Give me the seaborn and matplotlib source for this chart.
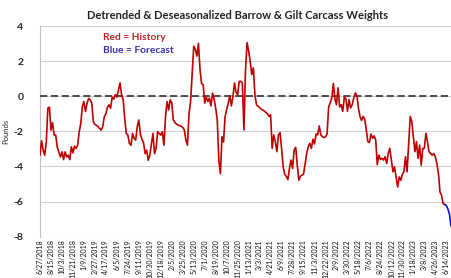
import pandas as pd
import matplotlib
matplotlib.use("Agg")
import matplotlib.pyplot as plt
import seaborn as sns

# Weekly values (pounds)
start_date = "2018-06-27"
history = [
    -3.36, -2.54, -3.07, -3.36, -2.6, -0.68, -0.62, -1.93, -1.5, -2.21,
    -2.21, -2.9, -3.17, -3.46, -3.17, -3.61, -3.17, -3.46, -3.36, -3.61,
    -2.88, -3.23, -2.84, -2.97, -2.79, -2.02, -1.54, -0.58, -0.3, -0.87,
    -0.39, -0.12, -0.2, -0.39, -1.45, -1.6, -1.66, -1.73, -1.83, -1.93,
    -1.73, -1.16, -1.0, -0.62, -0.49, -0.68, -0.05, -0.16, 0.09, -0.05,
    0.37, 0.76, 0.09, -0.2, -1.25, -2.12, -2.21, -2.69, -2.79, -2.12,
    -2.4, -2.5, -1.73, -1.35, -2.16, -2.46, -2.65, -3.27, -3.07, -3.65,
    -3.36, -2.73, -2.12, -3.27, -2.98, -2.02, -2.12, -2.21, -2.02, -2.79,
    -1.16, -0.3, -0.78, -0.2, -0.39, -1.35, -1.5, -1.58, -1.64, -1.68,
    -1.71, -1.77, -1.93, -2.5, -2.79, -0.97, -0.3, 1.24, 2.86, 2.67,
    2.29, 3.02, 1.52, 0.72, 0.66, -0.39, -0.05, -0.3, -0.1, -0.55,
    0.18, -0.16, -0.68, -1.35, -3.65, -4.42, -2.31, -2.6, -1.16, -0.74,
    -0.39, 0.03, -0.55, 0.0, 0.76, 0.22, 0.09, 0.85, 0.86, 0.77,
    -1.92, 1.5, 3.06, 2.58, 2.0, 1.24, 1.62, 0.09, -0.48, -0.57,
    -0.65, -0.73, -0.79, -0.84, -0.92, -1.0, -1.15, -1.05, -2.97, -2.2,
    -2.59, -3.16, -2.2, -2.07, -2.97, -4.02, -4.44, -4.56, -4.75, -4.12,
    -3.64, -4.12, -3.07, -2.91, -3.93, -4.79, -4.56, -4.5, -4.44, -3.83,
    -3.26, -2.87, -2.68, -2.97, -2.45, -2.72, -2.15, -2.2, -1.69, -2.2,
    -2.3, -2.36, -2.3, -2.15, -0.61, -0.38, -0.1, 0.73, -0.15, -0.48,
    0.48, -0.61, -0.48, -0.86, -0.04, -0.15, -0.86, -0.19, -0.67, -0.48,
    -0.1, 0.19, 0.04, -0.67, -1.15, -1.38, -1.15, -1.3, -1.92, -2.59,
    -2.64, -2.15, -2.39, -2.26, -2.49, -3.9, -3.35, -3.6, -3.54, -3.64,
    -3.45, -3.83, -3.26, -2.97, -3.64, -4.31, -4.02, -4.6, -5.17, -4.6,
    -4.79, -4.44, -4.31, -3.45, -4.31, -2.68, -1.15, -1.44, -2.3, -3.16,
    -2.59, -3.54, -2.78, -3.93, -2.97, -2.97, -2.11, -2.59, -3.16, -3.26,
    -3.35, -3.26, -3.45, -3.83, -4.41, -5.46, -5.65, -6.13, -6.17,
]
forecast = [-6.17, -6.23, -6.42, -6.71, -7.4]
y_ticks = [-8, -6, -4, -2, 0, 2, 4]

dates = pd.date_range(start_date, periods=len(history) + len(forecast) - 1, freq="7D")
hist_df = pd.DataFrame({"date": dates[:len(history)], "value": history})
fc_df = pd.DataFrame({"date": dates[len(history) - 1:], "value": forecast})
tick_dates = pd.date_range(start_date, periods=38, freq="49D")

sns.set_style("white")
plt.rcParams["font.family"] = ["Lato", "DejaVu Sans"]

fig = plt.figure(figsize=(4.51, 2.78), dpi=100)
ax = fig.add_axes([0.0887, 0.149, 0.9113, 0.757])

ax.axhline(0, color="#404040", lw=1.3, ls=(0, (4, 2)), zorder=3)
sns.lineplot(data=hist_df, x="date", y="value", color="#C00000", lw=1.2, ax=ax, zorder=4)
sns.lineplot(data=fc_df, x="date", y="value", color="#1010E0", lw=1.2, ax=ax, zorder=4)

ax.set_ylim(-8, 4)
ax.set_xlim(dates[0], dates[-1])
ax.set_yticks(y_ticks)
ax.set_yticklabels([str(t) for t in y_ticks], fontsize=7.5, fontweight="bold")
ax.yaxis.grid(True, color="#D0D0D0", lw=0.8)
ax.set_xticks(tick_dates)
ax.set_xticklabels([f"{d.month}/{d.day}/{d.year}" for d in tick_dates],
                   rotation=90, fontsize=5.0, color="#111111")
ax.tick_params(axis="y", length=4, color="#C0C0C0", width=0.8, pad=8)
ax.tick_params(axis="x", length=0, pad=2)
for s in ["top", "right", "bottom"]:
    ax.spines[s].set_visible(False)
ax.spines["left"].set_color("#C0C0C0")
ax.spines["left"].set_linewidth(0.8)

ax.set_xlabel("")
ax.set_ylabel("Pounds", fontsize=5.5, labelpad=8)
ax.yaxis.set_label_coords(-0.075, 0.5)

fig.text(0.526, 0.945, "Detrended & Deseasonalized Barrow & Gilt Carcass Weights",
         ha="center", va="center", fontsize=8, fontweight="bold", color="#222222")
fig.text(0.228, 0.866, "Red = History", ha="left", va="center",
         fontsize=7.3, fontweight="bold", color="#C0202A")
fig.text(0.228, 0.82, "Blue = Forecast", ha="left", va="center",
         fontsize=7.3, fontweight="bold", color="#3A2EB0")

fig.savefig("out.png", dpi=100)
